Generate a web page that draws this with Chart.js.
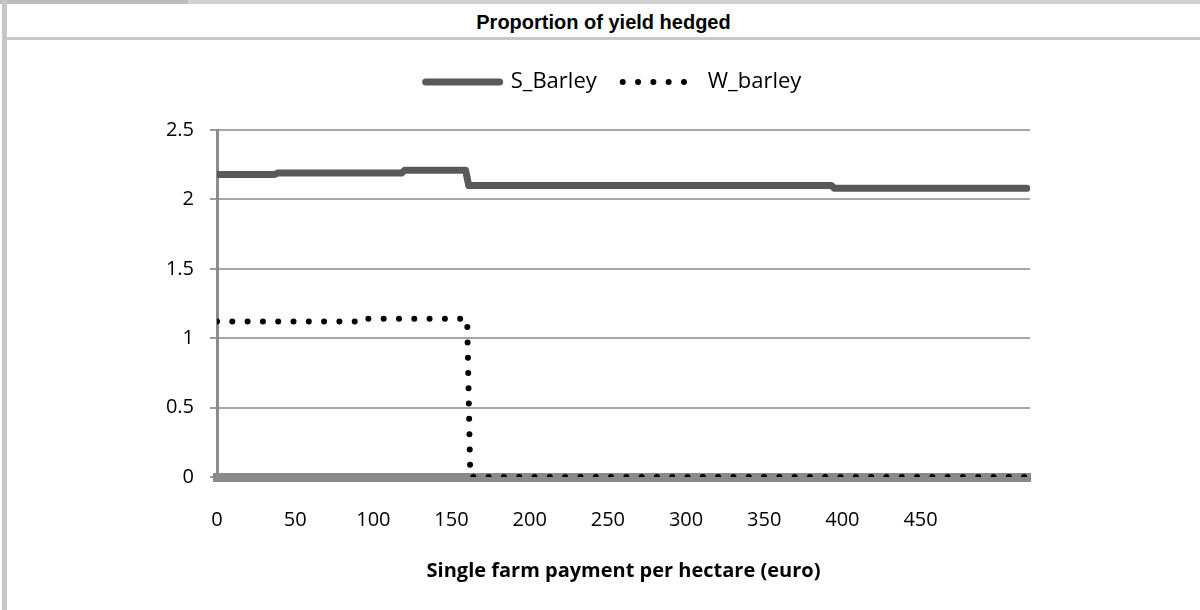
<!DOCTYPE html>
<html>
<head>
<meta charset="utf-8">
<title>Proportion of yield hedged</title>
<script src="https://cdn.jsdelivr.net/npm/chart.js@4"></script>
<style>
  html, body { margin: 0; padding: 0; background: #fff; }
  body { width: 1200px; height: 610px; position: relative; overflow: hidden; }
  #topband { position: absolute; left: 0; top: 0; width: 1200px; height: 4px;
             background: linear-gradient(to right, #bdbdbd 0, #bdbdbd 188px, #d0d0d0 188px); }
  #leftband { position: absolute; left: 2px; top: 0; width: 5px; height: 610px; background: #c6c6c6; }
  #title { position: absolute; left: 7px; top: 5px; width: 1193px; height: 32px;
           text-align: center; color: #000; border-bottom: 3px solid #c8c8c8;
           font: bold 20px "Liberation Sans Narrow", "Liberation Sans", Arial, sans-serif;
           line-height: 34px; }
  #wrap { position: absolute; left: 7px; top: 41px; width: 1193px; height: 569px; }
</style>
</head>
<body>
<div id="topband"></div>
<div id="leftband"></div>
<div id="title">Proportion of yield hedged</div>
<div id="wrap"><canvas id="hedgeChart"></canvas></div>
<script>
// Valeurs
const xTickLabels = [0, 50, 100, 150, 200, 250, 300, 350, 400, 450];
const yTickStep = 0.5;
const yMax = 2.5;
const xMax = 520;

// paiement unique par hectare (euro) -> proportion couverte
const sBarleyX = [0, 37, 39, 118, 120, 159, 161, 393, 395, 518];
const sBarleyY = [2.18, 2.18, 2.19, 2.19, 2.21, 2.21, 2.10, 2.10, 2.08, 2.08];
const wBarleyX = [0, 91, 92, 160, 162, 518];
const wBarleyY = [1.12, 1.12, 1.14, 1.14, 0, 0];

const toPoints = (xs, ys) => xs.map((x, i) => ({ x: x, y: ys[i] }));

const fontFamily = '"Open Sans", Lato, sans-serif';

// espace en plus sous la légende, et légende centrée sur toute la largeur
const legendSpacing = {
    id: 'legendSpacing',
    beforeInit(chart) {
        const fit = chart.legend.fit;
        chart.legend.fit = function () {
            fit.bind(chart.legend)();
            this.height += 27;
        };
    },
    afterLayout(chart) {
        chart.legend.left = 10;
        chart.legend.right = chart.width + 10;
    }
};

document.addEventListener('DOMContentLoaded', function () {
    const ctx = document.getElementById('hedgeChart').getContext('2d');

    new Chart(ctx, {
        type: 'line',
        data: {
            datasets: [
                {
                    label: 'S_Barley',
                    data: toPoints(sBarleyX, sBarleyY),
                    borderColor: '#595959',
                    backgroundColor: '#595959',
                    borderWidth: 7,
                    borderCapStyle: 'round',
                    borderJoinStyle: 'round',
                    pointRadius: 0,
                    tension: 0
                },
                {
                    label: 'W_barley',
                    data: toPoints(wBarleyX, wBarleyY),
                    borderColor: '#000000',
                    backgroundColor: '#000000',
                    borderWidth: 6,
                    borderDash: [0, 15.3],
                    borderCapStyle: 'round',
                    borderJoinStyle: 'round',
                    pointRadius: 0,
                    tension: 0
                }
            ]
        },
        options: {
            responsive: true,
            maintainAspectRatio: false,
            animation: false,
            layout: {
                padding: { left: 130, right: 170, top: 4, bottom: 27 }
            },
            plugins: {
                title: { display: false },
                tooltip: { enabled: false },
                legend: {
                    display: true,
                    position: 'top',
                    labels: {
                        usePointStyle: true,
                        pointStyleWidth: 74,
                        boxHeight: 7,
                        padding: 26,
                        color: '#000',
                        font: { family: fontFamily, size: 22 },
                        generateLabels: function (chart) {
                            return chart.data.datasets.map((ds, i) => ({
                                text: ds.label,
                                pointStyle: 'line',
                                strokeStyle: ds.borderColor,
                                fillStyle: ds.borderColor,
                                lineWidth: ds.borderWidth,
                                lineDash: ds.borderDash || [],
                                lineCap: ds.borderCapStyle,
                                datasetIndex: i,
                                hidden: false
                            }));
                        }
                    }
                }
            },
            scales: {
                x: {
                    type: 'linear',
                    min: 0,
                    max: xMax,
                    afterBuildTicks: function (scale) {
                        scale.ticks = xTickLabels.map(v => ({ value: v }));
                    },
                    afterFit: function (scale) {
                        scale.height = 106;
                    },
                    grid: { display: false, drawTicks: false },
                    border: { display: true, color: '#8a8a8a', width: 9 },
                    ticks: {
                        color: '#000',
                        padding: 31,
                        maxRotation: 0,
                        font: { family: fontFamily, size: 20 }
                    },
                    title: {
                        display: true,
                        text: 'Single farm payment per hectare (euro)',
                        color: '#000',
                        padding: { top: 0, bottom: 0 },
                        font: { family: fontFamily, size: 20, weight: 'bold' }
                    }
                },
                y: {
                    min: 0,
                    max: yMax,
                    afterFit: function (scale) {
                        scale.width = 80;
                    },
                    ticks: {
                        stepSize: yTickStep,
                        color: '#000',
                        padding: 16,
                        font: { family: fontFamily, size: 20 },
                        callback: function (value) {
                            return String(value);
                        }
                    },
                    grid: {
                        color: '#a6a6a6',
                        lineWidth: 2,
                        tickLength: 7,
                        tickColor: '#9a9a9a'
                    },
                    border: { display: true, color: '#8c8c8c', width: 3 }
                }
            }
        },
        plugins: [legendSpacing]
    });
});
</script>
</body>
</html>
